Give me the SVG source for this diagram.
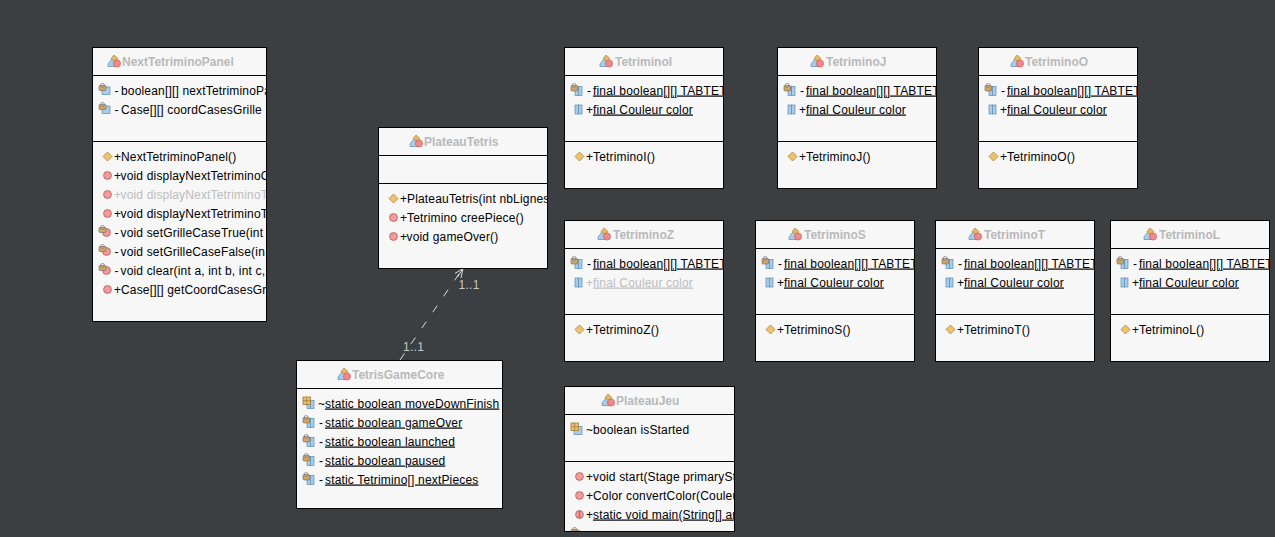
<svg xmlns="http://www.w3.org/2000/svg" width="1275" height="537" viewBox="0 0 1275 537">
<style>
.box{fill:#f7f7f7;stroke:#000;stroke-width:1}
.ln{stroke:#000;stroke-width:1}
text{font-family:"Liberation Sans",Arial,sans-serif;font-size:12px;fill:#000;letter-spacing:.17px}
.t{font-weight:bold;fill:#b9b9b9;letter-spacing:0}
.g{fill:#bdbdbd}
.u{text-decoration:underline;text-decoration-skip-ink:none}
.c{stroke:#dcdcdc;stroke-width:1;fill:none}
.m{fill:#c8c8c8;letter-spacing:.3px}
</style>
<defs>
<g id="cls"><path d="M0 9.500 L5 3 L11 8 L8 12 H0Z" fill="#a9cde8" stroke="#5b8db5" stroke-width=".7"/><path d="M3 4 L6 .5 L10 4 L7 7.500Z" fill="#e8b860" stroke="#a57c30" stroke-width=".6"/><circle cx="9" cy="9" r="3.600" fill="#f08a8a" stroke="#c05050" stroke-width=".6"/></g>
<g id="ctor"><path d="M4.500 0 L9 4.500 L4.500 9 L0 4.500Z" fill="#efc26e" stroke="#a8843c" stroke-width=".8"/></g>
<g id="meth"><circle cx="4.500" cy="4.500" r="3.900" fill="#f49c9c" stroke="#b86060" stroke-width=".9"/></g>
<g id="pmeth"><circle cx="7.500" cy="6.500" r="3.900" fill="#f49c9c" stroke="#b86060" stroke-width=".9"/><rect x="0" y="1.500" width="7" height="5" rx="1" fill="#d5a460" stroke="#666" stroke-width=".6"/><circle cx="3.500" cy="1.500" r="2" fill="none" stroke="#888" stroke-width=".9"/></g>
<g id="pfield"><rect x="3" y="3" width="8" height="7.500" fill="#a9cde8" stroke="#5b8db5" stroke-width=".7"/><rect x="0" y="1.500" width="7" height="5" rx="1" fill="#d5a460" stroke="#666" stroke-width=".6"/><circle cx="3.500" cy="1.500" r="2" fill="none" stroke="#888" stroke-width=".9"/></g>
<g id="psfield"><rect x="4" y="2.500" width="3.500" height="9" fill="#a9cde8" stroke="#5b8db5" stroke-width=".7"/><rect x="7.500" y="2.500" width="3.500" height="9" fill="#a9cde8" stroke="#5b8db5" stroke-width=".7"/><rect x="0" y="1.500" width="6.500" height="5.500" rx="1" fill="#d5a460" stroke="#666" stroke-width=".6"/><circle cx="3.200" cy="1.500" r="2" fill="none" stroke="#888" stroke-width=".9"/></g>
<g id="sfield"><rect x="1" y="1" width="3.500" height="9" fill="#a9cde8" stroke="#5b8db5" stroke-width=".7"/><rect x="4.500" y="1" width="3.500" height="9" fill="#a9cde8" stroke="#5b8db5" stroke-width=".7"/></g>
<g id="smeth"><circle cx="4.500" cy="4.500" r="3.900" fill="#f49c9c" stroke="#b86060" stroke-width=".9"/><rect x="3.600" y=".5" width="1.800" height="8" fill="#c07070"/></g>
<g id="dfield"><rect x="3" y="3.500" width="8" height="8" fill="#a9cde8" stroke="#5b8db5" stroke-width=".7"/><rect x="0" y="0" width="7.500" height="7.500" fill="#e8c070" stroke="#a07830" stroke-width=".8"/><path d="M3.750 0V7.500M0 3.750H7.500" stroke="#a07830" stroke-width=".7"/></g>
<g id="dsfield"><rect x="4" y="3.500" width="3.500" height="8" fill="#a9cde8" stroke="#5b8db5" stroke-width=".7"/><rect x="7.500" y="3.500" width="3.500" height="8" fill="#a9cde8" stroke="#5b8db5" stroke-width=".7"/><rect x="0" y="0" width="7.500" height="7.500" fill="#e8c070" stroke="#a07830" stroke-width=".8"/><path d="M3.750 0V7.500M0 3.750H7.500" stroke="#a07830" stroke-width=".7"/></g>
<clipPath id="c1"><rect x="93" y="48" width="173" height="273"/></clipPath>
<clipPath id="c2"><rect x="379" y="128" width="168" height="140"/></clipPath>
<clipPath id="c3"><rect x="297" y="361" width="205" height="147"/></clipPath>
<clipPath id="w158"><rect x="1" y="1" width="158" height="140"/></clipPath>
<clipPath id="c9"><rect x="565" y="387" width="169" height="144"/></clipPath>
</defs>
<rect width="1275" height="537" fill="#3c3f41"/>

<g id="connectors">
<path class="c" stroke-dasharray="8 11.300" d="M400 360 L463 268"/>
<path class="c" d="M463 268.500 L455 273.500 M463 268.500 L461 278 M463 268.500 L457.500 277"/>
<text class="m" x="458.500" y="289">1..1</text>
<text class="m" x="403" y="351">1..1</text>
</g>

<g id="NextTetriminoPanel">
<rect class="box" x="92.500" y="47.500" width="174" height="274"/>
<path class="ln" d="M92 75.500H267M92 141.500H267"/>
<g clip-path="url(#c1)">
<use href="#cls" x="108" y="54.500"/><text class="t" x="122" y="66">NextTetriminoPanel</text>
<use href="#pfield" x="99" y="84"/><text x="114.500" y="94.500">-</text><text x="121" y="94.500">boolean[][] nextTetriminoPa</text>
<use href="#pfield" x="99" y="103"/><text x="114.500" y="113.500">-</text><text x="121" y="113.500">Case[][] coordCasesGrille</text>
<use href="#ctor" x="103" y="152"/><text x="114" y="160.500">+</text><text x="121" y="160.500">NextTetriminoPanel()</text>
<use href="#meth" x="103" y="171"/><text x="114" y="179.500">+</text><text x="120.500" y="179.500">void displayNextTetriminoO</text>
<use href="#meth" x="103" y="190"/><text class="g" x="114" y="198.500">+</text><text class="g" x="120.500" y="198.500">void displayNextTetriminoT</text>
<use href="#meth" x="103" y="209"/><text x="114" y="217.500">+</text><text x="120.500" y="217.500">void displayNextTetriminoT</text>
<use href="#pmeth" x="99" y="226"/><text x="114.500" y="236.500">-</text><text x="120.500" y="236.500">void setGrilleCaseTrue(int</text>
<use href="#pmeth" x="99" y="245"/><text x="114.500" y="255.500">-</text><text x="120.500" y="255.500">void setGrilleCaseFalse(in</text>
<use href="#pmeth" x="99" y="264"/><text x="114.500" y="274.500">-</text><text x="120.500" y="274.500">void clear(int a, int b, int c, i</text>
<use href="#meth" x="103" y="285"/><text x="114" y="293.500">+</text><text x="121" y="293.500">Case[][] getCoordCasesGr</text>
</g>
</g>

<g id="PlateauTetris">
<rect class="box" x="378.500" y="127.500" width="169" height="141"/>
<path class="ln" d="M378 155.500H548M378 183.500H548"/>
<g clip-path="url(#c2)">
<use href="#cls" x="410" y="134.500"/><text class="t" x="424" y="146">PlateauTetris</text>
<use href="#ctor" x="389" y="194"/><text x="400" y="202.500">+</text><text x="407" y="202.500">PlateauTetris(int nbLignes</text>
<use href="#meth" x="389" y="213"/><text x="400" y="221.500">+</text><text x="407" y="221.500">Tetrimino creePiece()</text>
<use href="#meth" x="389" y="232"/><text x="400" y="240.500">+</text><text x="406.500" y="240.500">void gameOver()</text>
</g>
</g>

<g id="TetrisGameCore">
<rect class="box" x="296.500" y="360.500" width="206" height="148"/>
<path class="ln" d="M296 388.500H503"/>
<g clip-path="url(#c3)">
<use href="#cls" x="338" y="367.500"/><text class="t" x="352" y="379">TetrisGameCore</text>
<use href="#dsfield" x="303" y="397"/><text x="318" y="407.500">~</text><text class="u" x="325" y="407.500">static boolean moveDownFinish</text>
<use href="#psfield" x="303" y="416"/><text x="319" y="426.500">-</text><text class="u" x="325" y="426.500">static boolean gameOver</text>
<use href="#psfield" x="303" y="435"/><text x="319" y="445.500">-</text><text class="u" x="325" y="445.500">static boolean launched</text>
<use href="#psfield" x="303" y="454"/><text x="319" y="464.500">-</text><text class="u" x="325" y="464.500">static boolean paused</text>
<use href="#psfield" x="303" y="473"/><text x="319" y="483.500">-</text><text class="u" x="325" y="483.500">static Tetrimino[] nextPieces</text>
</g>
</g>

<g id="TetriminoI" transform="translate(564 47)">
<rect class="box" x=".5" y=".5" width="159" height="141"/>
<path class="ln" d="M0 28.500H160M0 94.500H160"/>
<g clip-path="url(#w158)">
<use href="#cls" x="36" y="7.500"/><text class="t" x="51" y="19">TetriminoI</text>
<use href="#psfield" x="7" y="37"/><text x="23" y="47.500">-</text><text class="u" x="29" y="47.500">final boolean[][] TABTET</text>
<use href="#sfield" x="10" y="57"/><text x="22" y="66.500">+</text><text class="u" x="29" y="66.500">final Couleur color</text>
<use href="#ctor" x="11" y="105"/><text x="22" y="113.500">+</text><text x="29" y="113.500">TetriminoI()</text>
</g>
</g>
<g id="TetriminoJ" transform="translate(777 47)">
<rect class="box" x=".5" y=".5" width="159" height="141"/>
<path class="ln" d="M0 28.500H160M0 94.500H160"/>
<g clip-path="url(#w158)">
<use href="#cls" x="34" y="7.500"/><text class="t" x="49" y="19">TetriminoJ</text>
<use href="#psfield" x="7" y="37"/><text x="23" y="47.500">-</text><text class="u" x="29" y="47.500">final boolean[][] TABTET</text>
<use href="#sfield" x="10" y="57"/><text x="22" y="66.500">+</text><text class="u" x="29" y="66.500">final Couleur color</text>
<use href="#ctor" x="11" y="105"/><text x="22" y="113.500">+</text><text x="29" y="113.500">TetriminoJ()</text>
</g>
</g>
<g id="TetriminoO" transform="translate(978 47)">
<rect class="box" x=".5" y=".5" width="159" height="141"/>
<path class="ln" d="M0 28.500H160M0 94.500H160"/>
<g clip-path="url(#w158)">
<use href="#cls" x="33" y="7.500"/><text class="t" x="47" y="19">TetriminoO</text>
<use href="#psfield" x="7" y="37"/><text x="23" y="47.500">-</text><text class="u" x="29" y="47.500">final boolean[][] TABTET</text>
<use href="#sfield" x="10" y="57"/><text x="22" y="66.500">+</text><text class="u" x="29" y="66.500">final Couleur color</text>
<use href="#ctor" x="11" y="105"/><text x="22" y="113.500">+</text><text x="29" y="113.500">TetriminoO()</text>
</g>
</g>
<g id="TetriminoZ" transform="translate(564 220)">
<rect class="box" x=".5" y=".5" width="159" height="141"/>
<path class="ln" d="M0 28.500H160M0 94.500H160"/>
<g clip-path="url(#w158)">
<use href="#cls" x="34" y="7.500"/><text class="t" x="49" y="19">TetriminoZ</text>
<use href="#psfield" x="7" y="37"/><text x="23" y="47.500">-</text><text class="u" x="29" y="47.500">final boolean[][] TABTET</text>
<use href="#sfield" x="10" y="57"/><text class="g" x="22" y="66.500">+</text><text class="u g" x="29" y="66.500">final Couleur color</text>
<use href="#ctor" x="11" y="105"/><text x="22" y="113.500">+</text><text x="29" y="113.500">TetriminoZ()</text>
</g>
</g>
<g id="TetriminoS" transform="translate(755 220)">
<rect class="box" x=".5" y=".5" width="159" height="141"/>
<path class="ln" d="M0 28.500H160M0 94.500H160"/>
<g clip-path="url(#w158)">
<use href="#cls" x="34" y="7.500"/><text class="t" x="49" y="19">TetriminoS</text>
<use href="#psfield" x="7" y="37"/><text x="23" y="47.500">-</text><text class="u" x="29" y="47.500">final boolean[][] TABTET</text>
<use href="#sfield" x="10" y="57"/><text x="22" y="66.500">+</text><text class="u" x="29" y="66.500">final Couleur color</text>
<use href="#ctor" x="11" y="105"/><text x="22" y="113.500">+</text><text x="29" y="113.500">TetriminoS()</text>
</g>
</g>
<g id="TetriminoT" transform="translate(935 220)">
<rect class="box" x=".5" y=".5" width="159" height="141"/>
<path class="ln" d="M0 28.500H160M0 94.500H160"/>
<g clip-path="url(#w158)">
<use href="#cls" x="34" y="7.500"/><text class="t" x="49" y="19">TetriminoT</text>
<use href="#psfield" x="7" y="37"/><text x="23" y="47.500">-</text><text class="u" x="29" y="47.500">final boolean[][] TABTET</text>
<use href="#sfield" x="10" y="57"/><text x="22" y="66.500">+</text><text class="u" x="29" y="66.500">final Couleur color</text>
<use href="#ctor" x="11" y="105"/><text x="22" y="113.500">+</text><text x="29" y="113.500">TetriminoT()</text>
</g>
</g>
<g id="TetriminoL" transform="translate(1110 220)">
<rect class="box" x=".5" y=".5" width="159" height="141"/>
<path class="ln" d="M0 28.500H160M0 94.500H160"/>
<g clip-path="url(#w158)">
<use href="#cls" x="34" y="7.500"/><text class="t" x="49" y="19">TetriminoL</text>
<use href="#psfield" x="7" y="37"/><text x="23" y="47.500">-</text><text class="u" x="29" y="47.500">final boolean[][] TABTET</text>
<use href="#sfield" x="10" y="57"/><text x="22" y="66.500">+</text><text class="u" x="29" y="66.500">final Couleur color</text>
<use href="#ctor" x="11" y="105"/><text x="22" y="113.500">+</text><text x="29" y="113.500">TetriminoL()</text>
</g>
</g>

<g id="PlateauJeu">
<rect class="box" x="564.500" y="386.500" width="170" height="145"/>
<path class="ln" d="M564 414.500H735M564 461.500H735"/>
<g clip-path="url(#c9)">
<use href="#cls" x="602" y="393.500"/><text class="t" x="616" y="405">PlateauJeu</text>
<use href="#dfield" x="571" y="423"/><text x="586" y="433.500">~</text><text x="593" y="433.500">boolean isStarted</text>
<use href="#meth" x="575" y="472"/><text x="586" y="480.500">+</text><text x="593" y="480.500">void start(Stage primarySt</text>
<use href="#meth" x="575" y="491"/><text x="586" y="499.500">+</text><text x="593" y="499.500">Color convertColor(Couleur</text>
<use href="#smeth" x="575" y="510"/><text x="586" y="518.500">+</text><text class="u" x="593" y="518.500">static void main(String[] ar</text>
<use href="#pmeth" x="571" y="528"/>
</g>
</g>
</svg>
